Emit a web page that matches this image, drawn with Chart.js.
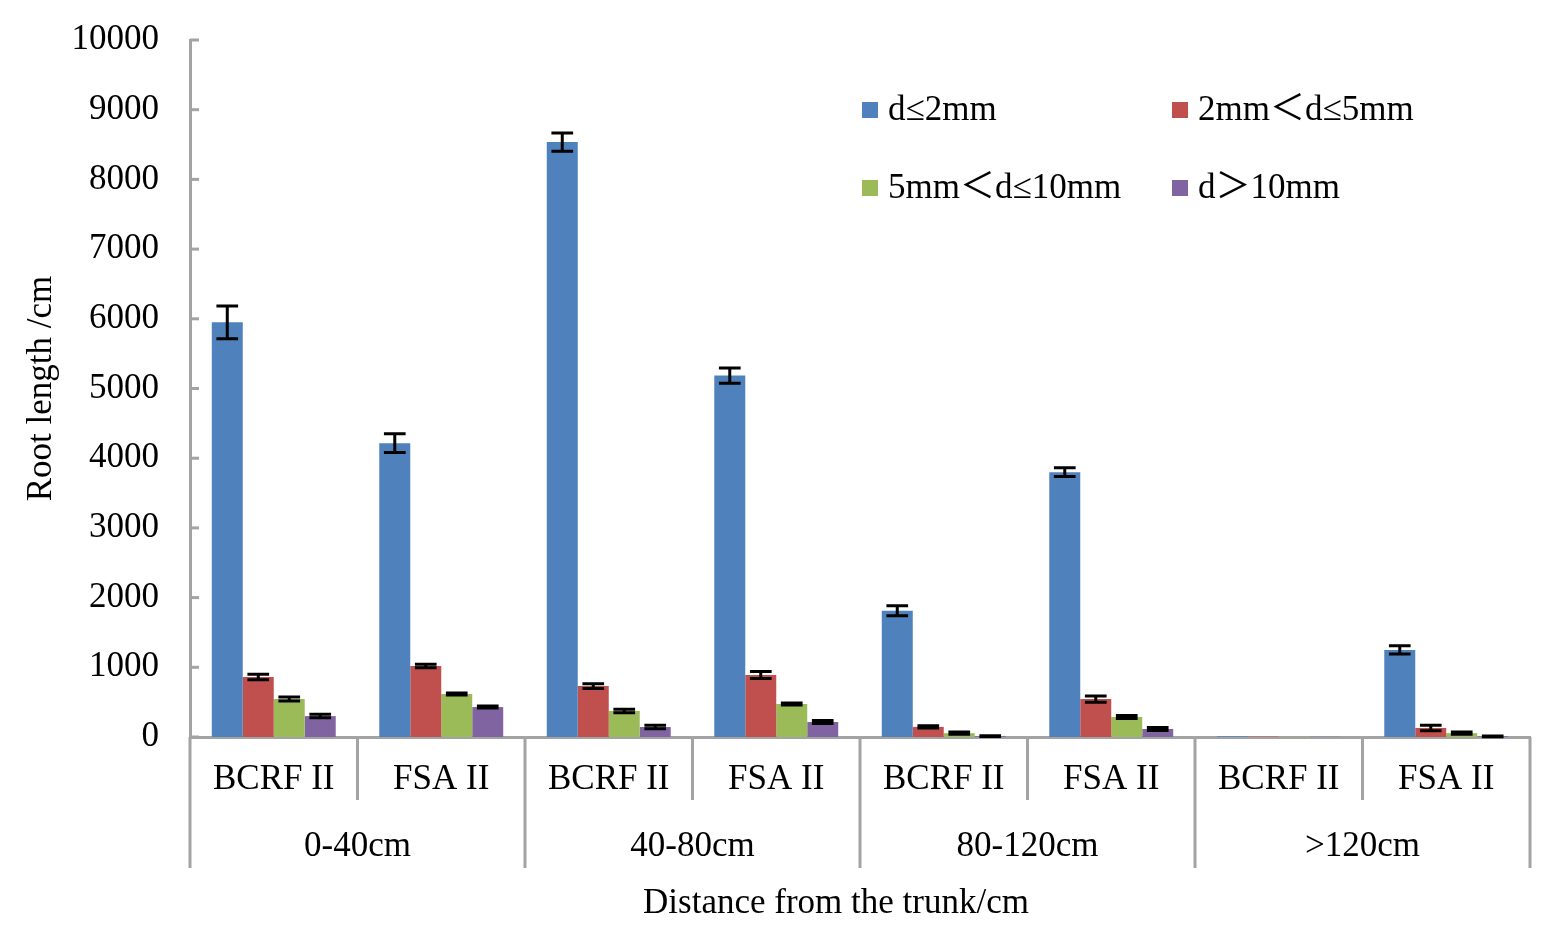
<!DOCTYPE html>
<html>
<head>
<meta charset="utf-8">
<script src="https://cdn.jsdelivr.net/npm/chart.js@4"></script>
<style>
  body { margin: 0; background: #fff; }
  .wrap { width: 1559px; height: 942px; position: relative; }
</style>
</head>
<body>
<div class="wrap"><canvas id="rootChart"></canvas></div>
<script>
// Data

const sites = ["BCRF II", "FSA II", "BCRF II", "FSA II", "BCRF II", "FSA II", "BCRF II", "FSA II"];
const distances = ["0-40cm", "40-80cm", "80-120cm", ">120cm"];
const seriesNames = ["d≤2mm", "2mm＜d≤5mm", "5mm＜d≤10mm", "d＞10mm"];
const seriesColors = ["#4F81BD", "#C0504D", "#9BBB59", "#8064A2"];

const fine = [5950, 4215, 8535, 5185, 1810, 3800, 10, 1250];
const small = [860, 1018, 730, 890, 145, 545, 6, 130];
const medium = [545, 617, 373, 473, 55, 287, 4, 55];
const large = [300, 430, 143, 215, 12, 115, 3, 10];

const fineErr = [235, 135, 130, 108, 72, 62, 0, 58];
const smallErr = [40, 25, 35, 50, 15, 45, 0, 40];
const mediumErr = [30, 15, 25, 15, 15, 20, 0, 15];
const largeErr = [25, 15, 25, 20, 5, 20, 0, 5];

const yTicks = [0, 1000, 2000, 3000, 4000, 5000, 6000, 7000, 8000, 9000, 10000];

const values = [fine, small, medium, large];
const errors = [fineErr, smallErr, mediumErr, largeErr];

const FONT = "'Liberation Serif', 'Times New Roman', 'Noto Sans CJK SC', serif";
const AXIS_GREY = "#a3a3a3";

// Plugins

const errorBars = {
    id: "errorBars",
    afterDatasetsDraw(chart) {
        const ctx = chart.ctx;
        const y = chart.scales.y;
        ctx.save();
        ctx.strokeStyle = "#000";
        ctx.lineWidth = 3;
        chart.data.datasets.forEach((ds, di) => {
            const meta = chart.getDatasetMeta(di);
            meta.data.forEach((bar, i) => {
                const e = errors[di][i];
                if (!e) return;
                const v = ds.data[i];
                const top = y.getPixelForValue(v + e);
                const bottom = y.getPixelForValue(Math.max(v - e, 0));
                const half = bar.width * 0.35;
                ctx.beginPath();
                ctx.moveTo(bar.x, top);
                ctx.lineTo(bar.x, bottom);
                ctx.moveTo(bar.x - half, top);
                ctx.lineTo(bar.x + half, top);
                ctx.moveTo(bar.x - half, bottom);
                ctx.lineTo(bar.x + half, bottom);
                ctx.stroke();
            });
        });
        ctx.restore();
    }
};

const axisDecor = {
    id: "axisDecor",
    afterDraw(chart) {
        const ctx = chart.ctx;
        const x = chart.scales.x;
        const y = chart.scales.y;
        const area = chart.chartArea;
        ctx.save();
        ctx.strokeStyle = AXIS_GREY;
        ctx.lineWidth = 3;

        // inside tick marks on the y axis
        y.ticks.forEach((t) => {
            const py = y.getPixelForValue(t.value);
            ctx.beginPath();
            ctx.moveTo(area.left, py);
            ctx.lineTo(area.left + 9, py);
            ctx.stroke();
        });

        // category separators
        const edges = [area.left];
        for (let i = 0; i < sites.length - 1; i++) {
            edges.push((x.getPixelForValue(i) + x.getPixelForValue(i + 1)) / 2);
        }
        edges.push(area.right);
        edges.forEach((ex, i) => {
            const len = i % 2 === 0 ? 131 : 63;
            ctx.beginPath();
            ctx.moveTo(ex, area.bottom);
            ctx.lineTo(ex, area.bottom + len);
            ctx.stroke();
        });

        // distance group labels
        ctx.fillStyle = "#000";
        ctx.font = "35px " + FONT;
        ctx.textAlign = "center";
        ctx.textBaseline = "middle";
        distances.forEach((d, g) => {
            const cx = (edges[g * 2] + edges[g * 2 + 2]) / 2;
            ctx.fillText(d, cx, area.bottom + 110);
        });

        // x axis title
        ctx.fillText("Distance from the trunk/cm", 836, 904);

        // legend (2 x 2 inside plot)
        const cols = [862, 1172];
        const rows = [110, 188];
        ctx.textAlign = "left";
        chart.data.datasets.forEach((ds, di) => {
            const lx = cols[di % 2];
            const ly = rows[Math.floor(di / 2)];
            ctx.fillStyle = ds.backgroundColor;
            ctx.fillRect(lx, ly - 8, 16, 16);
            ctx.fillStyle = "#000";
            ctx.fillText(ds.label, lx + 26, ly + 1);
        });
        ctx.restore();
    }
};

// Chart

const ctx = document.getElementById("rootChart");

const chart = new Chart(ctx, {
    type: "bar",
    data: {
        labels: sites,
        datasets: seriesNames.map((name, i) => ({
            label: name,
            data: values[i],
            backgroundColor: seriesColors[i],
            borderWidth: 0,
            categoryPercentage: 0.74,
            barPercentage: 1,
        })),
    },
    options: {
        responsive: true,
        maintainAspectRatio: false,
        animation: false,
        layout: {
            padding: { left: 0, right: 29, top: 40, bottom: 14 },
        },
        plugins: {
            legend: { display: false },
            tooltip: { enabled: false },
        },
        scales: {
            x: {
                grid: { display: false, drawTicks: false },
                border: { color: AXIS_GREY, width: 3 },
                ticks: {
                    color: "#000",
                    font: { family: FONT, size: 35 },
                    padding: 22,
                    maxRotation: 0,
                    autoSkip: false,
                },
                afterFit(scale) {
                    scale.height = 191;
                },
            },
            y: {
                min: 0,
                max: 10000,
                grid: { display: false, drawTicks: false },
                border: { color: AXIS_GREY, width: 3 },
                afterBuildTicks(scale) {
                    scale.ticks = yTicks.map((v) => ({ value: v }));
                },
                ticks: {
                    color: "#000",
                    font: { family: FONT, size: 35 },
                    padding: 31,
                    callback: (v) => String(v),
                },
                title: {
                    display: true,
                    text: "Root length /cm",
                    color: "#000",
                    font: { family: FONT, size: 35 },
                    padding: { top: 21, bottom: 0 },
                },
                afterFit(scale) {
                    scale.width = 190;
                    scale.paddingTop = 0;
                    scale.paddingBottom = 0;
                },
            },
        },
    },
    plugins: [errorBars, axisDecor],
});
</script>
</body>
</html>
